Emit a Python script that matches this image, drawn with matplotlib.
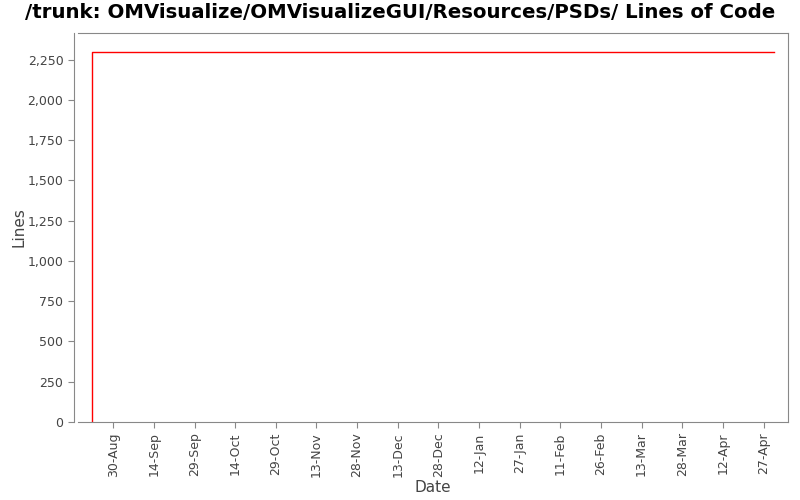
import matplotlib
matplotlib.use("Agg")
import matplotlib.pyplot as plt
from matplotlib.ticker import FuncFormatter
import datetime as dt

# data
dates = [dt.date(2010, 8, 22), dt.date(2010, 8, 22), dt.date(2011, 5, 1)]
lines = [0, 2300, 2300]

tick_dates = [dt.date(2010, 8, 30) + dt.timedelta(days=15 * i) for i in range(17)]
tick_labels = ['30-Aug', '14-Sep', '29-Sep', '14-Oct', '29-Oct', '13-Nov', '28-Nov',
               '13-Dec', '28-Dec', '12-Jan', '27-Jan', '11-Feb', '26-Feb', '13-Mar',
               '28-Mar', '12-Apr', '27-Apr']
y_ticks = [0, 250, 500, 750, 1000, 1250, 1500, 1750, 2000, 2250]

fig = plt.figure(figsize=(8, 5), dpi=100)
ax = fig.add_axes([0.0975, 0.156, 0.8875, 0.778])

ax.plot(dates, lines, color='#ff0000', linewidth=1.0)

ax.set_xlim(dt.date(2010, 8, 17), dt.date(2011, 5, 6))
ax.set_ylim(0, 2415)

ax.set_xticks(tick_dates)
ax.set_xticklabels(tick_labels, rotation=90)
ax.set_yticks(y_ticks)
ax.yaxis.set_major_formatter(FuncFormatter(lambda v, p: f'{int(v):,}'))

for s in ax.spines.values():
    s.set_color('#888888')
ax.spines['left'].set_position(('outward', 3))
ax.tick_params(colors='#888888', labelcolor='#444444', labelsize=9, length=4, width=0.8)

ax.set_xlabel('Date', fontsize=11, color='#444444', labelpad=2)
ax.set_ylabel('Lines', fontsize=11, color='#444444', labelpad=1)
fig.suptitle('/trunk: OMVisualize/OMVisualizeGUI/Resources/PSDs/ Lines of Code',
             fontsize=14.2, fontweight='bold', y=0.995)

fig.savefig('out.png', dpi=100)
